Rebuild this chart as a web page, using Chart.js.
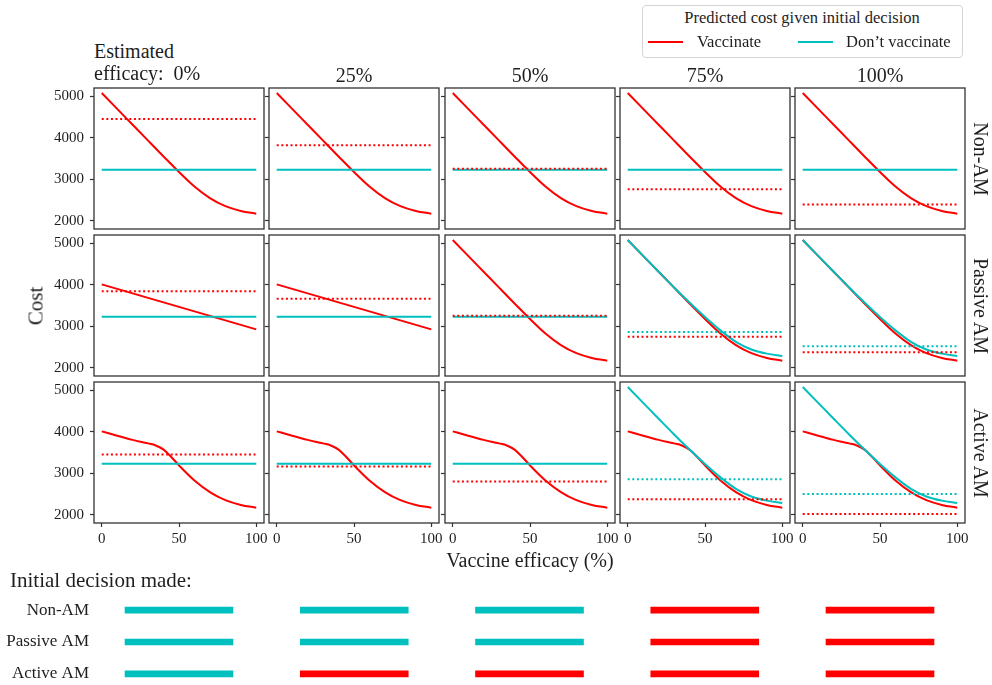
<!DOCTYPE html>
<html><head><meta charset="utf-8">
<script src="https://cdn.jsdelivr.net/npm/chart.js@4.4.0/dist/chart.umd.min.js"></script>
<style>
html,body{margin:0;padding:0;background:#fff;width:992px;height:685px;overflow:hidden;position:relative;font-family:"Liberation Serif",serif;color:#1e1e1e}
canvas{position:absolute}
.t{position:absolute;white-space:nowrap;line-height:1}
</style></head><body>
<script>
// ---------- data ----------
const efficacy = [0,10,20,30,40,50,60,70,80,90,100];
const vaccCost = [5080,4697,4314,3931,3550,3175,2825,2545,2350,2235,2170];
const dontLateCost = [5080,4697,4314,3935,3570,3222,2900,2625,2440,2340,2285];
const activeX = [0,10,20,25,30,35,40,45,50,60,70,80,90,100];
const activeVaccCost = [4010,3905,3805,3760,3720,3670,3570,3390,3190,2825,2545,2350,2235,2170];
const passiveEarlyX = [0,100];
const passiveEarlyVaccCost = [4010,2925];
const dontFlatCost = 3230;
const estEfficacy = ['0%','25%','50%','75%','100%'];
const amTypes = ['Non-AM','Passive AM','Active AM'];
const predVaccNonAM = [4450,3820,3250,2760,2390];
const predVaccPassive = [3845,3660,3250,2745,2375];
const predVaccActive = [3450,3165,2800,2375,2020];
const predDontNonAM = [null,null,null,null,null];
const predDontPassive = [null,null,null,2860,2515];
const predDontActive = [null,null,null,2855,2500];
const decisionNonAM = ['dont','dont','dont','vacc','vacc'];
const decisionPassive = ['dont','dont','dont','vacc','vacc'];
const decisionActive = ['dont','vacc','vacc','vacc','vacc'];
const yTicks = [2000,3000,4000,5000];
const xTicks = [0,50,100];

// ---------- styling / layout ----------
const RED = '#ff0000', CYAN = '#00bfbf', AX = '#333333', TXT = '#1e1e1e';
const FONT = '"Liberation Serif", serif';
Chart.defaults.font.family = FONT;
const colLeft = [94,269,445,620,795], PW = 170;
const rowTop = [88,235,382], PH = 141;
const PADL = 50, PADT = 18, PADR = 14, PADB = 24;

function pts(xs, ys){ return xs.map((x,i)=>({x:x, y:ys[i]})); }
function addText(txt, left, top, size, extra){
  const d = document.createElement('div'); d.className='t'; d.textContent = txt;
  d.style.left = left+'px'; d.style.top = top+'px'; d.style.fontSize = size+'px';
  if (extra) Object.assign(d.style, extra);
  document.body.appendChild(d); return d;
}
const framePlugin = {id:'frame', afterDraw(chart){
  const {ctx, chartArea:a} = chart; ctx.save(); ctx.strokeStyle = AX; ctx.lineWidth = 1.3;
  ctx.strokeRect(a.left, a.top, a.right-a.left, a.bottom-a.top); ctx.restore();
}};

const predVacc = [predVaccNonAM, predVaccPassive, predVaccActive];
const predDont = [predDontNonAM, predDontPassive, predDontActive];
function solidVacc(r,c){
  if (r===0) return pts(efficacy, vaccCost);
  if (r===1) return c<2 ? pts(passiveEarlyX, passiveEarlyVaccCost) : pts(efficacy, vaccCost);
  return pts(activeX, activeVaccCost);
}
function solidDont(r,c){
  if (r>0 && c>=3) return pts(efficacy, dontLateCost);
  return pts([0,100],[dontFlatCost,dontFlatCost]);
}

for (let r=0;r<3;r++){
  for (let c=0;c<5;c++){
    const cv = document.createElement('canvas');
    const W = PADL+PW+PADR, H = PADT+PH+PADB;
    cv.width = W; cv.height = H;
    cv.style.left = (colLeft[c]-PADL)+'px'; cv.style.top = (rowTop[r]-PADT)+'px';
    cv.style.width = W+'px'; cv.style.height = H+'px';
    document.body.appendChild(cv);
    const ds = [];
    const pv = predVacc[r][c], pd = predDont[r][c];
    ds.push({data: pts([0,100],[pv,pv]), borderColor: RED, borderWidth: 2, borderDash:[2,2.6]});
    if (pd !== null) ds.push({data: pts([0,100],[pd,pd]), borderColor: CYAN, borderWidth: 2, borderDash:[2,2.6]});
    ds.push({data: solidDont(r,c), borderColor: CYAN, borderWidth: 2});
    ds.push({data: solidVacc(r,c), borderColor: RED, borderWidth: 2});
    ds.forEach(d=>{ d.pointRadius = 0; d.fill = false; d.cubicInterpolationMode = 'monotone'; });
    const isBottom = r===2, isLeft = c===0;
    new Chart(cv, {
      type:'line',
      data:{datasets: ds},
      options:{
        responsive:false, animation:false, devicePixelRatio:1, events:[],
        layout:{padding:{left:0, top:PADT, right:PADR, bottom:0}},
        plugins:{legend:{display:false}, tooltip:{enabled:false}},
        scales:{
          x:{type:'linear', min:-5, max:105,
             afterBuildTicks: s=>{ s.ticks = xTicks.map(v=>({value:v})); },
             afterFit: s=>{ s.height = PADB; },
             grid:{drawOnChartArea:false, drawTicks:isBottom, tickLength:4, tickColor:AX, tickWidth:1.2},
             border:{display:false},
             ticks:{display:isBottom, autoSkip:false, maxRotation:0, padding:3, color:TXT,
                    font:{family:FONT, size:15}, callback: v=>String(v)}},
          y:{type:'linear', min:1800, max:5200,
             afterBuildTicks: s=>{ s.ticks = yTicks.map(v=>({value:v})); },
             afterFit: s=>{ s.width = PADL; },
             grid:{drawOnChartArea:false, drawTicks:true, tickLength:4, tickColor:AX, tickWidth:1.2},
             border:{display:false},
             ticks:{display:isLeft, padding:6, color:TXT, font:{family:FONT, size:15}, callback: v=>String(v)}}
        }
      },
      plugins:[framePlugin]
    });
  }
}

// ---------- bottom "initial decision" strip ----------
{
  const cv = document.createElement('canvas');
  // category axis adds label-half-height + padding (~15px) above/below the plot area
  cv.width = 992; cv.height = 126; cv.style.left='0px'; cv.style.top='579px';
  cv.style.width='992px'; cv.style.height='126px';
  document.body.appendChild(cv);
  const decisions = [decisionNonAM, decisionPassive, decisionActive];
  const half = 0.308;
  new Chart(cv, {
    type:'bar',
    data:{labels: amTypes, datasets: estEfficacy.map((e,c)=>({
      label: e,
      data: decisions.map(()=>[c-half, c+half]),
      backgroundColor: decisions.map(d=> d[c]==='vacc' ? RED : CYAN),
      barThickness: 6, grouped: false, borderWidth: 0
    }))},
    options:{
      indexAxis:'y', responsive:false, animation:false, devicePixelRatio:1, events:[],
      layout:{padding:{left:0, top:0, right:27, bottom:0}},
      plugins:{legend:{display:false}, tooltip:{enabled:false}},
      scales:{
        x:{type:'linear', min:-0.485, max:4.485, display:false},
        y:{afterFit: s=>{ s.width = 94; }, grid:{display:false, drawTicks:false, tickLength:0}, border:{display:false},
           ticks:{padding:5, color:TXT, font:{family:FONT, size:17}}}
      }
    }
  });
}

// ---------- text ----------
const b20 = 16.75; // baseline offset for 20px with line-height 1
addText('Estimated', 94, 58-b20, 20);
addText('efficacy:\u00a0 0%', 94, 80-b20, 20);
for (let c=1;c<5;c++) addText(estEfficacy[c], colLeft[c]+PW/2, 82-b20, 20, {transform:'translateX(-50%)'});
addText('Cost', 36, 306, 21, {transform:'translate(-50%,-50%) rotate(-90deg)'});
amTypes.forEach((t,r)=> addText(t, 981, rowTop[r]+PH/2, 20, {transform:'translate(-50%,-50%) rotate(90deg)'}));
addText('Vaccine efficacy (%)', 530, 567-b20, 20, {transform:'translateX(-50%)'});
addText('Initial decision made:', 10, 588-0.8375*21, 21);

// legend box
{
  const box = document.createElement('div');
  Object.assign(box.style, {position:'absolute', left:'642px', top:'5px', width:'319px', height:'51px',
    border:'1px solid #d4d4d4', borderRadius:'4px', background:'rgba(255,255,255,0.8)'});
  document.body.appendChild(box);
  addText('Predicted cost given initial decision', 802, 24-0.8375*16.5, 16.5, {transform:'translateX(-50%)'});
  const l1 = document.createElement('div');
  Object.assign(l1.style,{position:'absolute', left:'648px', top:'41px', width:'35px', height:'2px', background:RED});
  document.body.appendChild(l1);
  const l2 = document.createElement('div');
  Object.assign(l2.style,{position:'absolute', left:'798px', top:'41px', width:'35px', height:'2px', background:CYAN});
  document.body.appendChild(l2);
  addText('Vaccinate', 697, 48-0.8375*16.5, 16.5);
  addText('Don\u2019t vaccinate', 846, 48-0.8375*16.5, 16.5);
}
</script>
</body></html>
